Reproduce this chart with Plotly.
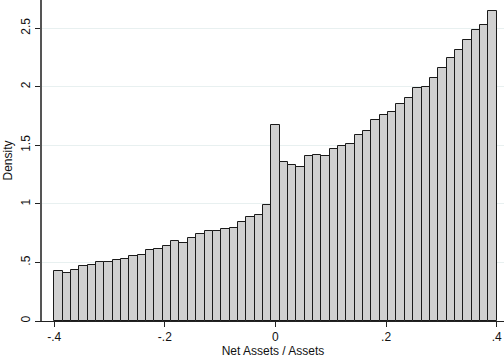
import numpy as np
import plotly.graph_objects as go

# Histogram densities (53 equal-width bins from -0.4 to 0.4)
bin_min = -0.4
bin_max = 0.4
density = [
    0.423, 0.414, 0.432, 0.472, 0.478, 0.500, 0.506, 0.523, 0.529, 0.551,
    0.560, 0.606, 0.615, 0.643, 0.680, 0.663, 0.709, 0.743, 0.766, 0.766,
    0.783, 0.794, 0.846, 0.885, 0.902, 0.991, 1.676, 1.360, 1.328, 1.317,
    1.405, 1.413, 1.405, 1.465, 1.496, 1.508, 1.585, 1.625, 1.713, 1.762,
    1.784, 1.853, 1.907, 1.990, 1.998, 2.078, 2.156, 2.241, 2.315, 2.398,
    2.481, 2.524, 2.649,
]
x_tickvals = [-0.4, -0.2, 0, 0.2, 0.4]
x_ticktext = ["-.4", "-.2", "0", ".2", ".4"]
y_tickvals = [0, 0.5, 1, 1.5, 2, 2.5]
y_ticktext = ["0", ".5", "1", "1.5", "2", "2.5"]
x_title = "Net Assets / Assets"
y_title = "Density"

n = len(density)
edges = np.linspace(bin_min, bin_max, n + 1)
centers = (edges[:-1] + edges[1:]) / 2
width = edges[1] - edges[0]

fig = go.Figure(go.Bar(
    x=centers, y=density, width=width,
    marker=dict(color="#d0d0d0", line=dict(color="#1a1a1a", width=1)),
))

font = dict(family="Liberation Sans, Arial, sans-serif", size=12, color="#111111")
fig.update_layout(
    width=504, height=358,
    margin=dict(l=42, r=0, t=0, b=37),
    plot_bgcolor="white", paper_bgcolor="white",
    showlegend=False, bargap=0,
    font=font,
)
fig.update_xaxes(
    range=[-0.4222, 0.4133],
    tickvals=x_tickvals, ticktext=x_ticktext,
    ticks="outside", ticklen=5, tickcolor="#222222",
    showline=True, linecolor="#222222", linewidth=1,
    showgrid=False, zeroline=False,
    title=dict(text=x_title, standoff=2, font=dict(size=12)),
    tickfont=dict(size=12),
)
fig.update_yaxes(
    range=[0, 2.74],
    tickvals=y_tickvals, ticktext=y_ticktext,
    tickangle=-90,
    ticks="outside", ticklen=5, tickcolor="#222222",
    showline=True, linecolor="#555555", linewidth=1.5,
    showgrid=True, gridcolor="#e8f0f0", gridwidth=1,
    zeroline=False,
    title=dict(text=y_title, standoff=4, font=dict(size=12)),
    tickfont=dict(size=12),
)

fig.write_html(
    "out.html",
    config={"displayModeBar": False},
    post_script="document.body.style.margin='0';document.body.style.overflow='hidden';",
)
